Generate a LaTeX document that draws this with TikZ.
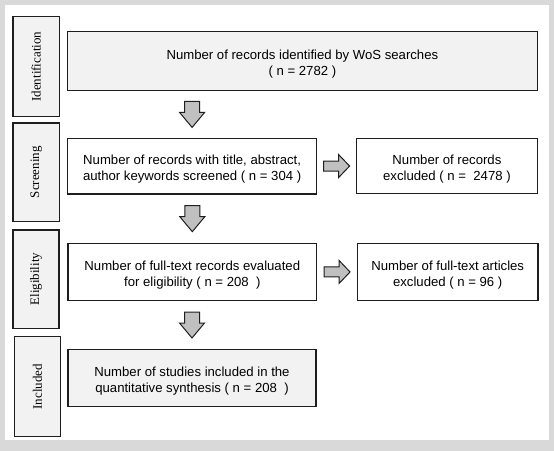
\documentclass[tikz,border=0pt]{standalone}
\usepackage{fontspec}
\setmainfont{Liberation Serif}
\setsansfont{Liberation Sans}
\usetikzlibrary{calc}

\definecolor{framegray}{RGB}{217,217,217}
\definecolor{boxgray}{RGB}{242,242,242}
\definecolor{arrowgray}{RGB}{192,192,192}
\definecolor{linegray}{RGB}{30,30,30}

\begin{document}
\begin{tikzpicture}[x=1bp,y=-1bp]
\tikzstyle{stage}=[rectangle, draw=linegray, line width=1.4bp, fill=boxgray, rotate=90, minimum height=46bp, font=\rmfamily\fontsize{13}{15}\selectfont]
\tikzstyle{main}=[rectangle, draw=linegray, line width=1.4bp, fill=white, align=center, text height=31.6bp, font=\sffamily\fontsize{13.2}{16}\selectfont]
\tikzstyle{shaded}=[main, fill=boxgray]
\tikzstyle{block}=[draw=linegray, line width=1bp, fill=arrowgray, line join=miter]
\tikzset{
  downblock/.pic={\draw[block] (-7.5,-13) -- (7.5,-13) -- (7.5,-2) -- (12.5,-2) -- (0,13) -- (-12.5,-2) -- (-7.5,-2) -- cycle;},
  rightblock/.pic={\draw[block] (-13,-5) -- (2,-5) -- (2,-11.5) -- (13,0) -- (2,11.5) -- (2,5) -- (-13,5) -- cycle;}
}
  % frame
  \fill[framegray] (0,0) rectangle (554,451);
  \fill[white] (5,5) rectangle (549,440);
  % stages
  \node[stage, minimum width=100bp] (Id) at (36.2,66.7) {Identification};
  \node[stage, minimum width=98.7bp] (Sc) at (36.2,172.3) {Screening};
  \node[stage, minimum width=98.3bp] (El) at (36,279.2) {Eligibility};
  \node[stage, minimum width=100bp] (In) at (37.5,386.7) {Included};
  % boxes
  \node[shaded, minimum width=469.8bp, minimum height=58.8bp] (W) at (302.4,61.1) {Number of records identified by WoS searches\\( n = 2782 )};
  \node[main, minimum width=249.2bp, minimum height=55.7bp] (T) at (192.1,166.2) {Number of records with title, abstract,\\author keywords screened (\ n = 304 )};
  \node[main, minimum width=180.8bp, minimum height=55.2bp] (TX) at (446.9,165.9) {Number of records\\excluded ( n = \ 2478 )};
  \node[main, minimum width=248.7bp, minimum height=57.4bp] (F) at (192.3,272) {Number of full-text records evaluated\\for eligibility ( n = 208 \ )};
  \node[main, minimum width=180.5bp, minimum height=57.2bp] (FX) at (447.7,271.9) {Number of full-text articles\\excluded ( n = 96 )};
  \node[shaded, minimum width=248bp, minimum height=57.2bp] (Q) at (192,377.9) {Number of studies included in the\\quantitative synthesis ( n = 208 \ )};
  % arrows
  \path ($(T.north)!.5!(T.north |- W.south)$) pic {downblock};
  \path ($(F.north)!.5!(F.north |- T.south)$) pic {downblock};
  \path ($(Q.north)!.5!(Q.north |- F.south)$) pic {downblock};
  \path ($(T.east)!.5!(TX.west)$) pic {rightblock};
  \path ($(F.east)!.5!(FX.west)$) pic {rightblock};
\end{tikzpicture}
\end{document}
